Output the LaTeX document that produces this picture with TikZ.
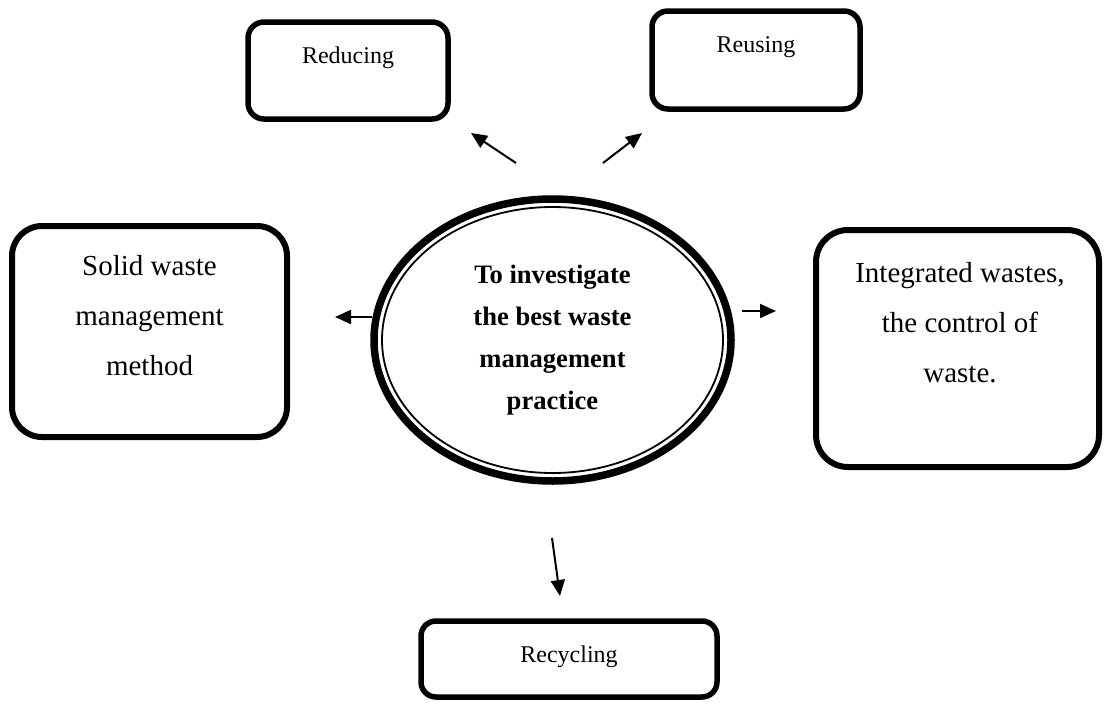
\documentclass[tikz,border=0pt]{standalone}
\usepackage{fontspec}
\setmainfont{Liberation Serif}
\usetikzlibrary{shapes.geometric,arrows.meta}
\begin{document}
\begin{tikzpicture}[x=1pt,y=-1pt,
  box/.style={draw,line width=6pt,rounded corners=#1,inner sep=0pt},
  small/.style={inner sep=0pt,font=\fontsize{24}{28}\selectfont},
  big/.style={inner sep=0pt,align=center,font=\fontsize{29}{50}\selectfont},
  arr/.style={line width=2pt,-{Triangle[length=16pt,width=14pt]}}]
\useasboundingbox (0,0) rectangle (1108,704);

% outer boxes
\node[box=16pt,line width=5.5pt,minimum width=200pt,minimum height=97pt] (reduce) at (348,70.5) {};
\node[box=16pt,line width=5.5pt,minimum width=208pt,minimum height=98pt] (reuse) at (756,60) {};
\node[box=30pt,minimum width=275pt,minimum height=211pt] (solid) at (149.5,331.5) {};
\node[box=32pt,minimum width=283pt,minimum height=237pt] (integ) at (957.5,348.5) {};
\node[box=15pt,line width=5.5pt,minimum width=296pt,minimum height=76pt] (recycle) at (569,659) {};

% box texts
\node[small,anchor=base] (reduceTxt) at (348,63) {Reducing};
\node[small,anchor=base] (reuseTxt) at (756,52) {Reusing};
\node[small,anchor=base] (recycleTxt) at (569,662) {Recycling};
\node[big,anchor=north] (solidTxt) at (149.5,255) {Solid waste\\management\\method};
\node[big,anchor=north] (integTxt) at (960,262) {Integrated wastes,\\the control of\\waste.};

% central goal: thick outer ring with a thin inner ring
\node[ellipse,draw,line width=7.5pt,minimum width=357pt,minimum height=282pt,
      inner sep=0pt,align=center,font=\bfseries\fontsize{26.6}{42}\selectfont]
  (goal) at (552.5,340) {To investigate\\the best waste\\management\\practice};
\draw[line width=1.8pt] (goal.center) ellipse [x radius=170.5pt, y radius=133pt];

% arrow ends
\coordinate (a1s) at (516,163); \coordinate (a1e) at (471,133);
\coordinate (a2s) at (603,163); \coordinate (a2e) at (642,133);
\coordinate (a3s) at (372,317); \coordinate (a3e) at (335,317);
\coordinate (a4s) at (742,311); \coordinate (a4e) at (776,311);
\coordinate (a5s) at (552,538); \coordinate (a5e) at (560,596);

\draw[arr] (a1s) -- (a1e);
\draw[arr] (a2s) -- (a2e);
\draw[arr] (a3s) -- (a3e);
\draw[arr] (a4s) -- (a4e);
\draw[arr] (a5s) -- (a5e);
\end{tikzpicture}
\end{document}
